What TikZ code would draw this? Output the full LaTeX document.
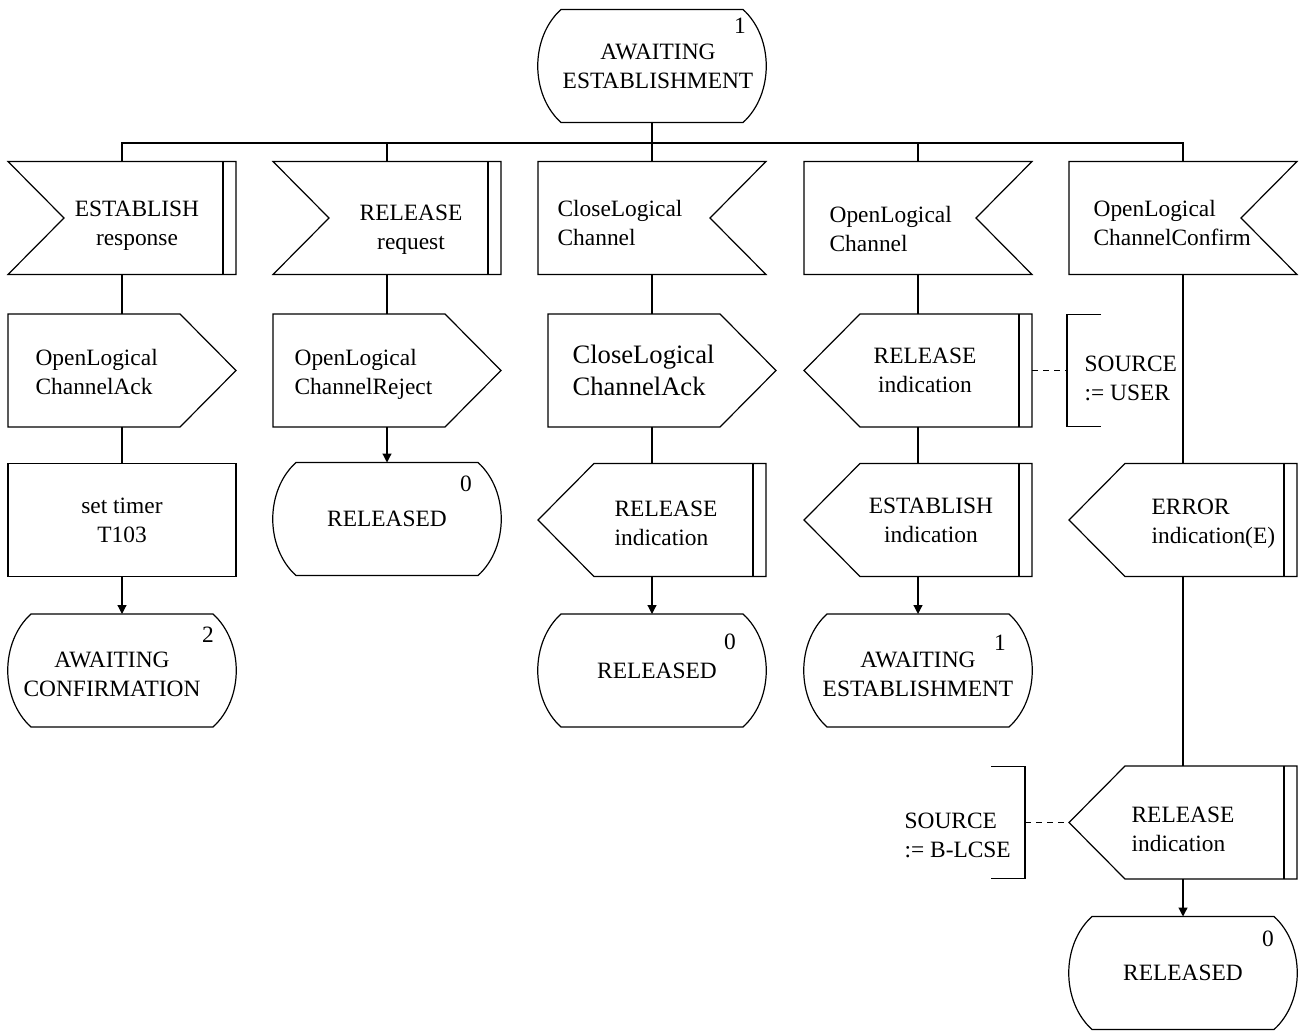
\documentclass[tikz,border=0pt]{standalone}
\usepackage{fontspec}
\setmainfont{Liberation Serif}
\usepackage{tikz}
\usetikzlibrary{arrows.meta,positioning}
\newcommand{\sdlfont}{\fontsize{11.7}{14.5}\selectfont}
\newcommand{\sdlbig}{\fontsize{13.3}{16}\selectfont}

\tikzset{
  sdl/.style={minimum width=114pt,minimum height=56.5pt,inner sep=0pt,outer sep=0pt},
  lbl/.style={inner sep=0pt,align=left},
  numlbl/.style={inner sep=0pt,anchor=north},
  inleft/.style={sdl,append after command={\pgfextra{\edef\sdlnode{\tikzlastnode}%
    \draw (\sdlnode.north west) -- (\sdlnode.north east) -- (\sdlnode.south east) -- (\sdlnode.south west) -- ([xshift=28pt]\sdlnode.west) -- cycle;}}},
  inright/.style={sdl,append after command={\pgfextra{\edef\sdlnode{\tikzlastnode}%
    \draw (\sdlnode.north west) -- (\sdlnode.north east) -- ([xshift=-28pt]\sdlnode.east) -- (\sdlnode.south east) -- (\sdlnode.south west) -- cycle;}}},
  outright/.style={sdl,append after command={\pgfextra{\edef\sdlnode{\tikzlastnode}%
    \draw (\sdlnode.north west) -- ([xshift=-28pt]\sdlnode.north east) -- (\sdlnode.east) -- ([xshift=-28pt]\sdlnode.south east) -- (\sdlnode.south west) -- cycle;}}},
  outleft/.style={sdl,append after command={\pgfextra{\edef\sdlnode{\tikzlastnode}%
    \draw (\sdlnode.west) -- ([xshift=28pt]\sdlnode.north west) -- (\sdlnode.north east) -- (\sdlnode.south east) -- ([xshift=28pt]\sdlnode.south west) -- cycle;}}},
  dbar/.style={append after command={\pgfextra{\edef\sdlnode{\tikzlastnode}%
    \draw ([xshift=-6.5pt]\sdlnode.north east) -- ([xshift=-6.5pt]\sdlnode.south east);}}},
  taskbox/.style={sdl,draw,align=center},
  statebox/.style={sdl,align=center,append after command={\pgfextra{\edef\sdlnode{\tikzlastnode}%
    \draw ([xshift=11.5pt]\sdlnode.north west) -- ([xshift=-11.5pt]\sdlnode.north east)
      .. controls ([xshift=4pt,yshift=-14pt]\sdlnode.north east) and ([xshift=4pt,yshift=14pt]\sdlnode.south east) .. ([xshift=-11.5pt]\sdlnode.south east)
      -- ([xshift=11.5pt]\sdlnode.south west)
      .. controls ([xshift=-4pt,yshift=14pt]\sdlnode.south west) and ([xshift=-4pt,yshift=-14pt]\sdlnode.north west) .. cycle;}}},
  comleft/.style={minimum width=17pt,minimum height=56pt,inner sep=0pt,outer sep=0pt,append after command={\pgfextra{\edef\sdlnode{\tikzlastnode}%
    \draw (\sdlnode.north east) -- (\sdlnode.north west) -- (\sdlnode.south west) -- (\sdlnode.south east);}}},
  comright/.style={minimum width=17pt,minimum height=56pt,inner sep=0pt,outer sep=0pt,append after command={\pgfextra{\edef\sdlnode{\tikzlastnode}%
    \draw (\sdlnode.north west) -- (\sdlnode.north east) -- (\sdlnode.south east) -- (\sdlnode.south west);}}},
  comdash/.style={dash pattern=on 3pt off 2.5pt}
}

\begin{document}
\begin{tikzpicture}[x=0.5pt,y=-0.5pt,line width=0.6pt,font=\sdlfont,>={Triangle[length=4.5pt,width=4.5pt]}]
\useasboundingbox (0,0) rectangle (1300,1032);

% start state
\node[statebox,label={[numlbl,xshift=-13pt,yshift=-4pt]north east:1},
  label={[lbl,align=center,xshift=3pt]center:AWAITING\\ESTABLISHMENT}] (top) at (652,66) {};
\coordinate (bus) at (652,143);

% inputs
\node[inleft,dbar,label={[lbl,align=center,xshift=7.5pt,yshift=-3.7pt]center:ESTABLISH\\response}] (in1) at (122,218) {};
\node[inleft,dbar,label={[lbl,align=center,xshift=12pt,yshift=-5.7pt]center:RELEASE\\request}] (in2) at (387,218) {};
\node[inright,label={[lbl,anchor=west,xshift=9.5pt,yshift=-2.3pt]west:CloseLogical\\Channel}] (in3) at (652,218) {};
\node[inright,label={[lbl,anchor=west,xshift=12.5pt,yshift=-5.3pt]west:OpenLogical\\Channel}] (in4) at (918,218) {};
\node[inright,label={[lbl,anchor=west,xshift=12pt,yshift=-2.3pt]west:OpenLogical\\ChannelConfirm}] (in5) at (1183,218) {};

% second row
\node[outright,label={[lbl,anchor=west,xshift=13.5pt,yshift=-0.5pt]west:OpenLogical\\ChannelAck}] (out1) at (122,370.5) {};
\node[outright,label={[lbl,anchor=west,xshift=10.5pt,yshift=-1.8pt]west:OpenLogical\\ChannelReject}] (out2) at (387,370.5) {};
\node[outright,label={[lbl,anchor=west,xshift=12pt,font=\sdlbig]west:CloseLogical\\ChannelAck}] (out3) at (662,370.5) {};
\node[outleft,dbar,label={[lbl,align=center,xshift=3.5pt]center:RELEASE\\indication}] (out4) at (918,370.5) {};
\node[comleft,right=17.5pt of out4,label={[lbl,anchor=west,xshift=8.5pt,yshift=-3.8pt]west:SOURCE\\:= USER}] (com1) {};

% third row
\node[taskbox] (task1) at (122,520) {set timer\\T103};
\node[statebox,label={[numlbl,xshift=-17.5pt,yshift=-6.5pt]north east:0}] (st2) at (387,519) {RELEASED};
\node[outleft,dbar,label={[lbl,anchor=west,xshift=38pt,yshift=-1.9pt]west:RELEASE\\indication}] (out3b) at (652,520) {};
\node[outleft,dbar,label={[lbl,align=center,xshift=6.5pt,yshift=-0.4pt]center:ESTABLISH\\indication}] (out4b) at (918,520) {};
\node[outleft,dbar,label={[lbl,anchor=west,xshift=41pt,yshift=-1.9pt]west:ERROR\\indication(E)}] (out5a) at (1183,520) {};

% next states
\node[statebox,label={[numlbl,xshift=-14pt,yshift=-6pt]north east:2},
  label={[lbl,align=center,xshift=-5pt,yshift=-2pt]center:AWAITING\\CONFIRMATION}] (st1) at (122,670.5) {};
\node[statebox,label={[numlbl,xshift=-18pt,yshift=-9.5pt]north east:0},
  label={[lbl,xshift=2.5pt]center:RELEASED}] (st3) at (652,670.5) {};
\node[statebox,label={[numlbl,xshift=-16pt,yshift=-10pt]north east:1},
  label={[lbl,align=center,yshift=-2pt]center:AWAITING\\ESTABLISHMENT}] (st4) at (918,670.5) {};

% last column, lower part
\node[outleft,dbar,label={[lbl,anchor=west,xshift=31pt,yshift=-3.6pt]west:RELEASE\\indication}] (out5b) at (1183,822.5) {};
\node[comright,left=22pt of out5b,label={[lbl,anchor=west,xshift=-43.5pt,yshift=-6.3pt]west:SOURCE\\:= B-LCSE}] (com2) {};
\node[statebox,label={[numlbl,xshift=-14.5pt,yshift=-7pt]north east:0}] (st5) at (1183,973) {RELEASED};

% connectors
\draw (top.south) -- (bus);
\draw (in1.north) |- (bus) -| (in5.north);
\draw (in2.north) -- (in2.north |- bus);
\draw (in3.north) -- (in3.north |- bus);
\draw (in4.north) -- (in4.north |- bus);

\draw (in1.south) -- (out1.north);
\draw (out1.south) -- (task1.north);
\draw[->] (task1.south) -- (st1.north);

\draw (in2.south) -- (out2.north);
\draw[->] (out2.south) -- (st2.north);

\draw (in3.south) -- (in3.south |- out3.north);
\draw (out3.south -| out3b.north) -- (out3b.north);
\draw[->] (out3b.south) -- (st3.north);

\draw (in4.south) -- (out4.north);
\draw (out4.south) -- (out4b.north);
\draw[->] (out4b.south) -- (st4.north);
\draw[comdash] (out4.east) -- (com1.west);

\draw (in5.south) -- (out5a.north);
\draw (out5a.south) -- (out5b.north);
\draw[->] (out5b.south) -- (st5.north);
\draw[comdash] (com2.east) -- (out5b.west);
\end{tikzpicture}
\end{document}
